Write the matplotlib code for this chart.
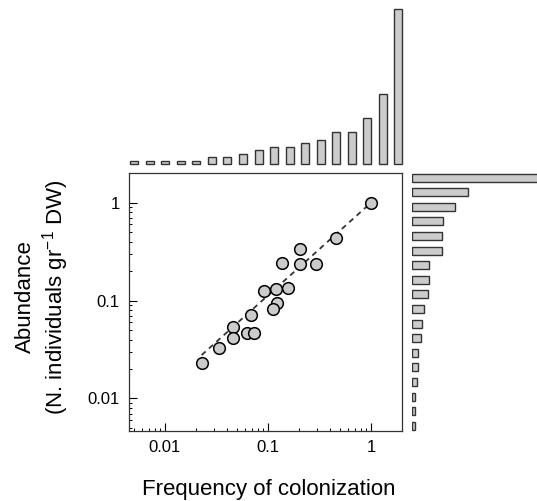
import numpy as np
import matplotlib
matplotlib.use("Agg")
import matplotlib.pyplot as plt
from matplotlib.ticker import LogLocator, FixedLocator, FixedFormatter, NullFormatter

plt.rcParams['font.family'] = ['Liberation Sans', 'DejaVu Sans']
plt.rcParams['mathtext.fontset'] = 'custom'
plt.rcParams['mathtext.rm'] = 'Liberation Sans'

# scatter values
freq = [0.0228, 0.0337, 0.0455, 0.0455, 0.0622, 0.0733, 0.068, 0.0914, 0.121,
        0.158, 0.122, 0.1135, 0.137, 0.205, 0.205, 0.293, 0.458, 1.0]
abund = [0.0231, 0.0329, 0.054, 0.0417, 0.0462, 0.0462, 0.0706, 0.125, 0.130,
         0.133, 0.0935, 0.0812, 0.240, 0.334, 0.234, 0.234, 0.432, 1.0]

# dashed fit line end points
fit_x = [0.0228, 1.0]
fit_y = [0.0277, 1.0]

# marginal bars
top_bars = [0.023, 0.023, 0.023, 0.023, 0.023, 0.045, 0.045, 0.068, 0.091,
            0.114, 0.114, 0.136, 0.159, 0.205, 0.205, 0.295, 0.455, 1.0]
right_bars = [1.0, 0.43, 0.33, 0.24, 0.235, 0.235, 0.135, 0.13, 0.125,
              0.094, 0.081, 0.072, 0.047, 0.047, 0.04, 0.023, 0.023, 0.023]

tick_vals = [0.01, 0.1, 1]
tick_labels = ["0.01", "0.1", "1"]

W, H = 537, 501


def px_box(x0, y0, x1, y1):
    return [x0 / W, 1 - y1 / H, (x1 - x0) / W, (y1 - y0) / H]


fig = plt.figure(figsize=(W / 100, H / 100), dpi=100)

ax = fig.add_axes(px_box(129.3, 173.3, 402, 430.5))
ax.plot(fit_x, fit_y, linestyle=(0, (3, 2.5)), color='#333333', lw=1.3, zorder=2)
ax.plot(freq, abund, 'o', ms=8.4, mfc='#cccccc', mec='black', mew=1.1, zorder=3)
ax.set_xscale('log')
ax.set_yscale('log')
ax.set_xlim(0.00454, 2.0)
ax.set_ylim(0.0047, 2.0)
for axis in (ax.xaxis, ax.yaxis):
    axis.set_major_locator(FixedLocator(tick_vals))
    axis.set_major_formatter(FixedFormatter(tick_labels))
    axis.set_minor_locator(LogLocator(base=10, subs=np.arange(2, 10)))
    axis.set_minor_formatter(NullFormatter())
ax.tick_params(which='major', direction='in', length=5.8, width=0.8, pad=7, labelsize=12)
ax.tick_params(which='minor', direction='in', length=2.5, width=0.7)
for s in ax.spines.values():
    s.set_color('#333333')
    s.set_linewidth(0.9)

# top marginal
axt = fig.add_axes(px_box(126.5, 9, 406.1, 164.3))
axt.bar(range(len(top_bars)), top_bars, width=0.515, color='#cccccc',
        edgecolor='#333333', lw=1, clip_on=False)
axt.set_xlim(-0.5, len(top_bars) - 0.5)
axt.set_ylim(0, 1)
axt.axis('off')

# right marginal
axr = fig.add_axes(px_box(412, 170.4, 541.3, 433))
axr.barh(range(len(right_bars)), right_bars, height=0.55, color='#cccccc',
         edgecolor='#333333', lw=1)
axr.set_ylim(len(right_bars) - 0.5, -0.5)
axr.set_xlim(0, 1)
axr.axis('off')

fig.text(268.5 / W, 1 - 495 / H, "Frequency of colonization", fontsize=16,
         ha='center', va='baseline')
fig.text(43 / W, 1 - 297 / H, "Abundance\n(N. individuals gr$^{\\mathregular{-1}}$ DW)",
         fontsize=16, ha='center', va='center', rotation=90,
         multialignment='center', linespacing=1.2)

fig.savefig("out.png", dpi=100)
